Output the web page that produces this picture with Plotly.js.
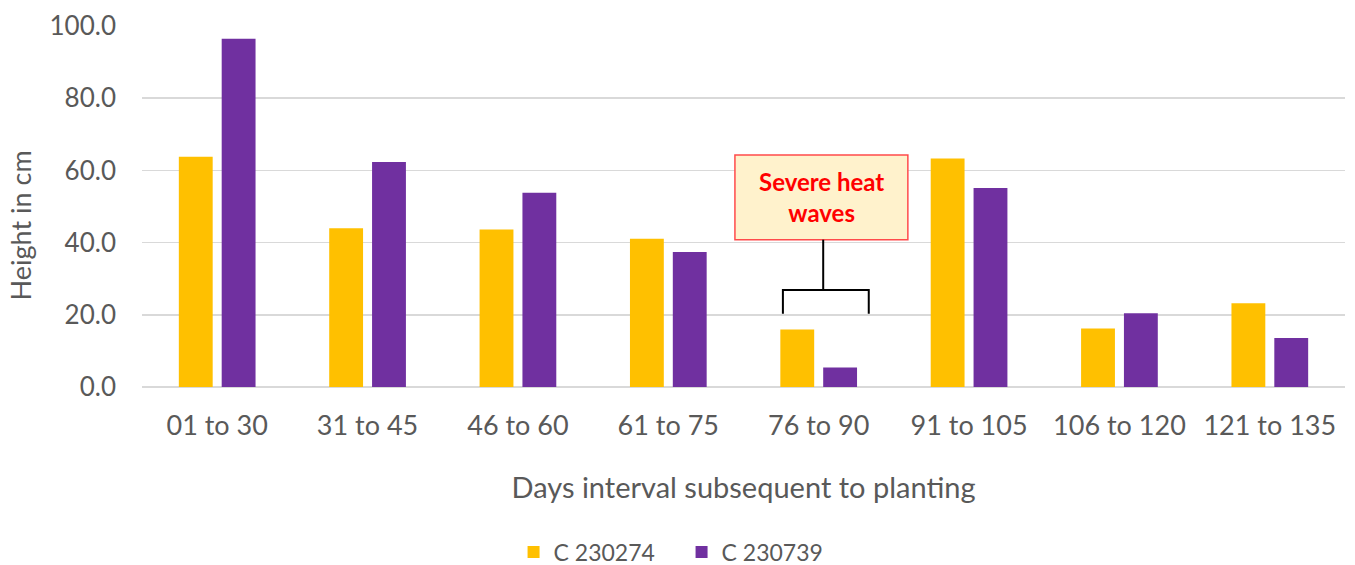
<!DOCTYPE html>
<html>
<head>
<meta charset="utf-8">
<script src="https://cdn.plot.ly/plotly-3.0.1.min.js"></script>
<style>html,body{margin:0;padding:0;background:#fff}#chart{width:1355px;height:565px}</style>
</head>
<body>
<div id="chart"></div>
<script>
const categories = ["01 to 30","31 to 45","46 to 60","61 to 75","76 to 90","91 to 105","106 to 120","121 to 135"];
const seriesA_name = "C 230274";
const seriesA = [63.8, 44.0, 43.6, 41.1, 15.9, 63.3, 16.2, 23.2];
const seriesB_name = "C 230739";
const seriesB = [96.5, 62.3, 53.8, 37.4, 5.4, 55.1, 20.4, 13.6];
const yTicks = [0, 20, 40, 60, 80, 100];

const font = "Lato, 'Open Sans', sans-serif";
const grey = "#595959";

const traces = [
  {type:"bar", name:seriesA_name, x:categories, y:seriesA, marker:{color:"#FFC000"}},
  {type:"bar", name:seriesB_name, x:categories, y:seriesB, marker:{color:"#7030A0"}}
];

const layout = {
  width:1355, height:565,
  margin:{l:142, r:10, t:26, b:178, autoexpand:false},
  paper_bgcolor:"#fff", plot_bgcolor:"#fff",
  font:{family:font, color:grey, size:20},
  barmode:"group", bargap:0.43, bargroupgap:0.21,
  showlegend:true,
  legend:{orientation:"h", xref:"container", x:0.503, xanchor:"center", y:-0.457, yanchor:"middle",
          font:{size:23, color:grey}, itemwidth:30, entrywidth:123},
  xaxis:{type:"category", tickfont:{size:27, color:grey}, ticks:"", showline:false, ticklabelstandoff:20,
         title:{text:"Days interval subsequent to planting", font:{size:29, color:grey}, standoff:37}},
  yaxis:{range:[0,100], tickvals:yTicks, ticktext:yTicks.map(v=>v.toFixed(1)),
         tickfont:{size:26, color:grey}, gridcolor:"#d9d9d9", gridwidth:1.5, ticklabelstandoff:25,
         zeroline:true, zerolinecolor:"#d9d9d9", zerolinewidth:1.5, showline:false, ticks:"", ticklen:0},
  shapes:[
    {type:"rect", xref:"x", yref:"y", x0:3.443, x1:4.593, y0:40.8, y1:64.3,
     fillcolor:"#FFF2CC", line:{color:"#FF4B4B", width:1.5}, layer:"above"},
    {type:"line", xref:"x", yref:"y", x0:4.03, x1:4.03, y0:40.8, y1:26.9, line:{color:"#000", width:2}},
    {type:"path", xref:"x", yref:"y", path:"M3.762,20.3 L3.762,26.9 L4.333,26.9 L4.333,20.3", line:{color:"#000", width:2}}
  ],
  annotations:[
    {xref:"x", yref:"y", x:4.018, y:52.5, text:"<b>Severe heat<br>waves</b>", showarrow:false,
     font:{family:font, size:24, color:"#FF0000"}, align:"center"},
    {xref:"paper", yref:"paper", x:-0.101, y:0.449, xanchor:"center", yanchor:"middle", textangle:-90,
     text:"Height in cm", showarrow:false, font:{family:font, size:27, color:grey}}
  ]
};

Plotly.newPlot("chart", traces, layout, {displayModeBar:false, staticPlot:true});
</script>
</body>
</html>
